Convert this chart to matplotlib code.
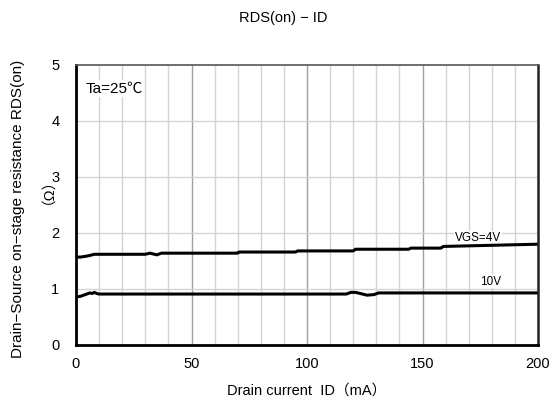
import matplotlib
matplotlib.use("Agg")
import matplotlib.pyplot as plt

# Data
id_4v = [0, 2, 5, 8, 30, 32, 34, 35, 37, 70, 70.5, 95, 96, 120, 121, 144, 145, 158, 159, 200]
rds_4v = [1.57, 1.57, 1.59, 1.62, 1.62, 1.64, 1.62, 1.61, 1.64, 1.64, 1.66, 1.66, 1.68, 1.68, 1.71, 1.71, 1.73, 1.73, 1.76, 1.80]

id_10v = [0, 2, 4, 6, 7, 8, 9, 10, 117, 119, 121, 124, 126, 129, 131, 200]
rds_10v = [0.86, 0.87, 0.90, 0.93, 0.92, 0.94, 0.92, 0.91, 0.91, 0.94, 0.94, 0.91, 0.89, 0.90, 0.93, 0.93]

x_ticks = [0, 50, 100, 150, 200]
y_ticks = [0, 1, 2, 3, 4, 5]

fam = ['Liberation Sans', 'Noto Sans CJK JP', 'DejaVu Sans']
plt.rcParams['font.family'] = fam

fig = plt.figure(figsize=(5.59, 4.05), dpi=100)
ax = fig.add_axes([76/559, 1-345/405, 462/559, 280/405])

ax.set_xlim(0, 200)
ax.set_ylim(0, 5)

# grid
for x in range(10, 200, 10):
    c = '#a0a0a0' if x % 50 == 0 else '#d4d4d4'
    ax.axvline(x, color=c, lw=1.0, zorder=1)
for y in range(1, 5):
    ax.axhline(y, color='#d4d4d4', lw=1.0, zorder=1)

ax.plot(id_4v, rds_4v, color='black', lw=2.2, zorder=3, solid_joinstyle='round')
ax.plot(id_10v, rds_10v, color='black', lw=2.2, zorder=3, solid_joinstyle='round')

ax.text(174, 1.91, 'VGS=4V', ha='center', va='center', fontsize=8.5,
        bbox=dict(facecolor='white', edgecolor='none', pad=0.5), zorder=2)
ax.text(179.5, 1.13, '10V', ha='center', va='center', fontsize=8.5,
        bbox=dict(facecolor='white', edgecolor='none', pad=0.5), zorder=2)
ax.text(4, 4.58, 'Ta=25℃', ha='left', va='center', fontsize=11,
        bbox=dict(facecolor='white', edgecolor='none', pad=1), zorder=2)

ax.set_xticks(x_ticks)
ax.set_yticks(y_ticks)
ax.tick_params(length=0, labelsize=10.5, pad=9)
ax.tick_params(axis='y', pad=12)

for s in ['left', 'bottom']:
    ax.spines[s].set_linewidth(2.0)
    ax.spines[s].set_color('black')
ax.spines['right'].set_linewidth(1.8)
ax.spines['right'].set_color('#222222')
ax.spines['top'].set_linewidth(1.2)
ax.spines['top'].set_color('#555555')
for s in ax.spines.values():
    s.set_zorder(4)

fig.text(283/559, 1-18/405, 'RDS(on) − ID', ha='center', va='center', fontsize=10.5)
fig.text(307/559, 1-391/405, 'Drain current  ID（mA）', ha='center', va='center', fontsize=10.5)
fig.text(18/559, 1-209/405, 'Drain−Source on−stage resistance RDS(on)', ha='center', va='center',
         rotation=90, fontsize=11)
fig.text(40/559, 1-184/405, '（Ω）', ha='center', va='center', rotation=90, fontsize=10.5)

fig.savefig('out.png', dpi=100)
